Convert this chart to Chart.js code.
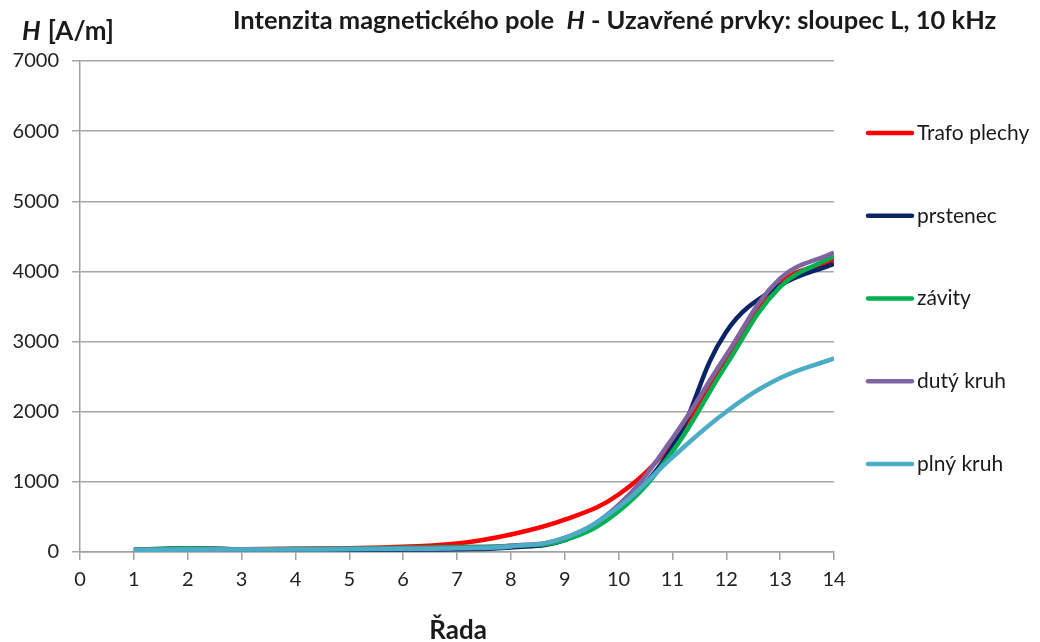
<!DOCTYPE html>
<html><head><meta charset="utf-8">
<script src="https://cdn.jsdelivr.net/npm/chart.js@4.4.1/dist/chart.umd.min.js"></script>
<style>html,body{margin:0;padding:0;background:#fff}</style></head>
<body>
<canvas id="c" width="1040" height="642" style="display:block;width:1040px;height:642px"></canvas>
<script>
const categories = [1,2,3,4,5,6,7,8,9,10,11,12,13,14];
const trafoPlechy = [30,45,40,45,55,75,120,250,460,820,1560,2740,3830,4170];
const prstenec    = [25,55,35,30,30,35,40,65,170,620,1500,3140,3800,4110];
const zavity      = [35,55,40,45,50,60,70,90,170,580,1430,2670,3780,4220];
const dutyKruh    = [30,40,40,40,45,50,60,90,200,670,1620,2810,3900,4270];
const plnyKruh    = [25,35,35,35,40,45,55,80,200,640,1350,2000,2480,2760];
const seriesNames  = ['Trafo plechy','prstenec','závity','dutý kruh','plný kruh'];
const seriesValues = [trafoPlechy, prstenec, zavity, dutyKruh, plnyKruh];
const seriesColors = ['#FF0000','#0B2466','#00B050','#8064A2','#4BACC6'];
const xTickLabels = [0,1,2,3,4,5,6,7,8,9,10,11,12,13,14];
const yTickLabels = [0,1000,2000,3000,4000,5000,6000,7000];

const FONT = 'Lato, "Open Sans", sans-serif';

const datasets = seriesValues.map((vals, i) => ({
  label: seriesNames[i],
  data: categories.map((c, k) => ({x: c, y: vals[k]})),
  borderColor: seriesColors[i],
  backgroundColor: seriesColors[i],
  borderWidth: 4.5,
  pointRadius: 0,
  tension: 0.4,
  fill: false,
  order: seriesNames.length - i
}));

const textPlugin = {
  id: 'texts',
  afterDraw(chart) {
    const ctx = chart.ctx;
    ctx.save();
    ctx.fillStyle = '#1a1a1a';
    ctx.textBaseline = 'alphabetic';
    // Title with italic H
    const parts = [
      ['bold', 'Intenzita magnetického pole  '],
      ['italic bold', 'H'],
      ['bold', ' - Uzavřené prvky: sloupec L, 10 kHz']
    ];
    let x = 233;
    parts.forEach(([st, t]) => {
      ctx.font = st + ' 25.5px ' + FONT;
      ctx.fillText(t, x, 29);
      x += ctx.measureText(t).width;
    });
    // Y axis title
    let yx = 22;
    ctx.font = 'italic bold 26px ' + FONT;
    ctx.fillText('H', yx, 40);
    yx += ctx.measureText('H').width + 7;
    ctx.font = 'bold 26px ' + FONT;
    ctx.fillText('[A/m]', yx, 40);
    // X axis title
    ctx.font = 'bold 26px ' + FONT;
    ctx.textAlign = 'center';
    ctx.fillText('Řada', 458, 639);
    // Legend
    ctx.textAlign = 'left';
    ctx.textBaseline = 'middle';
    ctx.font = '21px ' + FONT;
    chart.data.datasets.forEach((ds, i) => {
      const ly = 133 + i * 82.75;
      ctx.strokeStyle = ds.borderColor;
      ctx.lineWidth = 4.5;
      ctx.lineCap = 'round';
      ctx.beginPath();
      ctx.moveTo(868, ly);
      ctx.lineTo(912, ly);
      ctx.stroke();
      ctx.fillStyle = '#1a1a1a';
      ctx.fillText(ds.label, 917, ly);
    });
    ctx.restore();
  }
};

new Chart(document.getElementById('c'), {
  type: 'line',
  data: { datasets },
  plugins: [textPlugin],
  options: {
    responsive: false,
    devicePixelRatio: 1,
    animation: false,
    layout: { padding: { top: 61, right: 206, left: 0, bottom: 0 } },
    plugins: { legend: { display: false }, title: { display: false }, tooltip: { enabled: false } },
    scales: {
      x: {
        type: 'linear', min: 0, max: 14,
        afterBuildTicks: s => { s.ticks = xTickLabels.map(v => ({value: v})); },
        afterFit: s => { s.height = 90; },
        ticks: { font: { family: FONT, size: 20 }, color: '#222', padding: 8, maxRotation: 0, callback: v => String(v) },
        grid: { drawOnChartArea: false, drawTicks: true, tickLength: 8, color: '#a0a0a0', lineWidth: 1.5 },
        border: { display: true, color: '#a0a0a0', width: 1.5 }
      },
      y: {
        type: 'linear', min: 0, max: 7000,
        afterBuildTicks: s => { s.ticks = yTickLabels.map(v => ({value: v})); },
        afterFit: s => { s.width = 80; },
        ticks: { font: { family: FONT, size: 20 }, color: '#222', padding: 13, callback: v => String(v) },
        grid: { drawTicks: true, tickLength: 8, color: '#a6a6a6', lineWidth: 1.5 },
        border: { display: true, color: '#a0a0a0', width: 1.5 }
      }
    }
  }
});
</script>
</body></html>
